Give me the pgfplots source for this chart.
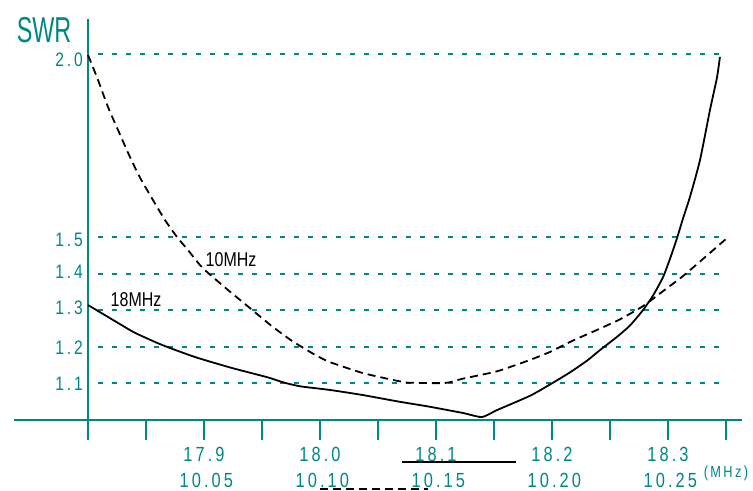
\documentclass[border=0pt]{standalone}
\usepackage{pgfplots}
\pgfplotsset{compat=1.18}
\usepackage{fontspec}
\setmainfont{Liberation Sans}
\newfontfamily\labfont[FakeStretch=0.8,LetterSpace=15]{Liberation Sans}
\newfontfamily\curvefont[FakeStretch=0.8]{Liberation Sans}
\newfontfamily\swrfont[FakeStretch=0.65]{Liberation Sans}
\definecolor{tealc}{RGB}{0,134,134}
\begin{document}
\begin{tikzpicture}
\begin{axis}[
  scale only axis, width=728pt, height=401pt,
  xmin=17.7362, xmax=18.3638, ymin=1, ymax=2.0956,
  axis x line=bottom, axis y line=none,
  axis line style={-, draw=tealc, line width=2pt},
  xtick={17.85,17.9,17.95,18.0,18.05,18.1,18.15,18.2,18.25,18.3,18.35},
  xticklabels={},
  tick align=outside, major tick length=20pt,
  tick style={draw=tealc, line width=2pt},
  ytick=\empty,
  clip=false,
]
% grid lines
\foreach \v in {1.1,1.2,1.3,1.4,1.5,2.0}{
  \edef\temp{\noexpand\draw[tealc, line width=2pt, dash pattern=on 5pt off 9pt, dash phase=-10pt] (axis cs:17.8,\v) -- (axis cs:18.3448,\v);}
  \temp
}
% y axis line
\draw[tealc, line width=2pt] (axis cs:17.8,0.945) -- (axis cs:17.8,2.0956);

% 10 MHz (dashed)
\addplot[black, line width=1.8pt, dash pattern=on 8pt off 5pt, smooth, tension=0.35] coordinates {
(17.8000,1.997) (17.8086,1.929) (17.8172,1.855) (17.8259,1.792) (17.8345,1.730)
(17.8440,1.667) (17.8552,1.605) (17.8664,1.546) (17.8767,1.500) (17.8862,1.464)
(17.8966,1.423) (17.9034,1.402) (17.9207,1.355) (17.9414,1.301) (17.9586,1.256)
(17.9759,1.216) (17.9957,1.178) (18.0086,1.158) (18.0371,1.128) (18.0664,1.107)
(18.0750,1.102) (18.1078,1.101) (18.1233,1.113) (18.1526,1.133) (18.1810,1.164)
(18.1983,1.186) (18.2181,1.217) (18.2388,1.246) (18.2586,1.275) (18.2784,1.311)
(18.2957,1.352) (18.3129,1.393) (18.3302,1.440) (18.3509,1.497)
};
% 18 MHz (solid)
\addplot[black, line width=1.8pt, smooth, tension=0.35] coordinates {
(17.8000,1.314) (17.8259,1.265) (17.8405,1.238) (17.8638,1.205) (17.8922,1.172)
(17.9241,1.142) (17.9543,1.117) (17.9681,1.103) (17.9828,1.092) (18.0086,1.082)
(18.0371,1.068) (18.0664,1.051) (18.0948,1.036) (18.1233,1.019) (18.1397,1.008)
(18.1526,1.027) (18.1810,1.066) (18.1983,1.097) (18.2155,1.130) (18.2302,1.162)
(18.2414,1.191) (18.2560,1.227) (18.2672,1.258) (18.2784,1.300) (18.2871,1.340)
(18.2957,1.390) (18.3017,1.440) (18.3078,1.497) (18.3129,1.550) (18.3190,1.610)
(18.3276,1.710) (18.3362,1.847) (18.3422,1.935) (18.3448,1.992)
};

% y tick labels
\foreach \v/\s in {1.1/0, 1.2/-1, 1.3/2, 1.4/2, 1.5/-3, 2.0/-6}{
  \edef\temp{\noexpand\node[anchor=east, inner sep=0pt, text=tealc, font=\noexpand\labfont\noexpand\fontsize{19.5}{22}\noexpand\selectfont] at ([xshift=-5pt, yshift=\s pt]axis cs:17.8,\v) {\v};}
  \temp
}
% x tick labels
\foreach \a/\b in {17.9/10.05, 18.0/10.10, 18.1/10.15, 18.2/10.20, 18.3/10.25}{
  \edef\temp{\noexpand\node[inner sep=0pt, text=tealc, font=\noexpand\labfont\noexpand\fontsize{20.5}{24}\noexpand\selectfont] at (axis cs:\a,0.9057) {\a};
  \noexpand\node[inner sep=0pt, text=tealc, font=\noexpand\labfont\noexpand\fontsize{20.5}{24}\noexpand\selectfont] at (axis cs:\a+0.002,0.836) {\b};}
  \temp
}
\node[inner sep=0pt, text=tealc, font=\labfont\fontsize{16}{19}\selectfont] at (axis cs:18.3500,0.855) {(MHz)};
\node[inner sep=0pt, text=tealc, font=\swrfont\fontsize{36}{40}\selectfont] at (axis cs:17.7621,2.0656) {SWR};
\node[inner sep=0pt, text=black, font=\curvefont\fontsize{20}{24}\selectfont] at (axis cs:17.9233,1.437) {10MHz};
\node[inner sep=0pt, text=black, font=\curvefont\fontsize{20}{24}\selectfont] at (axis cs:17.8414,1.328) {18MHz};
% legend lines under the frequency labels
\draw[black, line width=1.8pt] (axis cs:18.0707,0.885) -- (axis cs:18.1690,0.885);
\draw[black, line width=1.8pt, dash pattern=on 8pt off 5pt] (axis cs:18.0,0.8115) -- (axis cs:18.0931,0.8115);

\coordinate (BL) at (axis cs:17.7241,0.806);
\coordinate (TR) at (axis cs:18.3733,2.1475);
\end{axis}
\pgfresetboundingbox
\path[use as bounding box] (BL) rectangle (TR);
\end{tikzpicture}
\end{document}
